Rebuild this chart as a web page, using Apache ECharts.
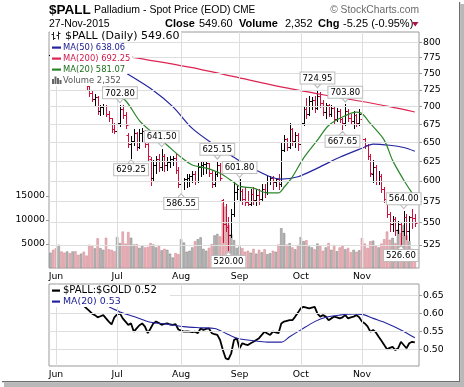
<!DOCTYPE html>
<html><head><meta charset="utf-8">
<script src="https://cdn.jsdelivr.net/npm/echarts@6/dist/echarts.min.js"></script>
<style>html,body{margin:0;padding:0;background:#fff}#c{width:464px;height:387px}</style>
</head><body><div id="c"></div>
<script>
// ---------- categories (trading days) ----------
const dates = [];
(function () {
  let t = Date.UTC(2015, 4, 28); const end = Date.UTC(2015, 10, 27);
  while (t <= end) { const d = new Date(t); const w = d.getUTCDay();
    if (w !== 0 && w !== 6) dates.push(d.toISOString().slice(0, 10)); t += 86400000; }
})();
dates.push(''); // empty slot at right edge
const monthNames = ['Jan','Feb','Mar','Apr','May','Jun','Jul','Aug','Sep','Oct','Nov','Dec'];

// ---------- tick labels ----------
const priceTicks = [525,550,575,600,625,650,675,700,725,750,775,800];
const volumeTicks = [5000,10000,15000];
const ratioTicks = [0.50,0.55,0.60,0.65];

// ---------- OHLC ----------
const opens = [779,778,772,766,778,774,762,766,760,764,
 758,748,752,742,730,720,711,714,694,699,
 701,690,684,668,665,676,697,688,660,648,
 652,662,644,662,666,648,628,604,620,628,
 618,632,620,624,628,629,614,596,600,602,
 604,606,608,600,618,620,621,622,610,596,
 608,620,576,548,545,536,560,586,590,588,
 578,574,572,584,576,582,578,590,586,600,
 604,598,602,596,640,654,644,668,652,660,
 648,676,696,690,708,710,698,716,706,692,
 702,690,698,682,694,682,676,694,684,680,
 688,676,682,654,646,632,608,618,600,606,
 590,578,560,548,554,542,548,540,556,540,
 556,554.85];
const highs = [786,782,780,782,786,778,770,772,768,770,
 762,756,755,744,733,724,718,716,702,704,
 703,693,684,676,680,702.8,702,692,662,658,
 668,664,668,670,667,652,630,626,632,634,
 641.5,634,630,632,632,634,618,606,604,608,
 608,612,612,622,624,624,624,623,614,612,
 625.15,622,578,572,556,566,598,594,601.8,590,
 592,588,590,592,590,590,596,596,606,606,
 606,604,608,650,660,656,676,670,664,662,
 682,700,712,716,714,716,724.95,722,710,706,
 704,702,700,698,696,684,703.8,696,690,694,
 690,696,684,656,648,634,626,620,612,608,
 592,580,562,558,556,552,550,564,560,558,
 566,560];
const lows = [772,768,762,764,770,758,752,756,750,754,
 744,740,738,726,716,708,702,690,688,690,
 687,680,664,662,663,672,684,670,644,629.25,
 646,640,642,652,644,626,595,600,610,612,
 614,612,614,618,620,610,592,586.55,590,592,
 594,598,596,598,606,608,610,606,592,594,
 606,600,528,540,520,534,558,578,576,572,
 570,570,570,572,570,572,576,580,584,596,
 590,594,590,594,638,640,642,646,644,640,
 646,674,684,688,696,692,696,700,688,684,
 686,686,676,680,678,667.65,674,680,676,670,
 672,674,650,642,628,606,598,596,596,586,
 574,556,540,540,536,538,526.6,536,532,530,
 544,546];
const closes = [778,772,766,778,774,762,766,760,764,758,
 748,752,742,730,720,711,714,694,699,701,
 690,684,668,665,676,697,688,674,648,652,
 662,644,662,666,648,632,604,620,628,618,
 632,620,624,628,629,614,596,600,602,604,
 606,608,600,618,620,621,622,610,596,608,
 620,604,548,545,536,560,586,590,594,578,
 574,572,584,576,582,578,590,586,600,604,
 598,602,596,640,654,644,668,652,660,648,
 676,696,690,708,710,698,716,706,692,702,
 690,698,682,694,682,676,694,684,680,688,
 676,690,654,646,632,610,618,600,606,590,
 578,560,548,554,542,548,540,556,540,556,
 554.85,549.6];
const volumes = [3200,3800,4150,4850,3450,3200,3450,3100,3450,3500,2750,3000,
 3400,2600,4850,4600,4100,6200,4150,3800,6300,3900,3800,3500,
 6450,5200,7600,5100,7500,6300,4900,5000,4200,4700,4300,4400,
 5200,4900,4300,4600,3700,4000,3800,3000,2200,3100,2900,
 6000,5300,3400,3600,4300,5600,6000,6400,4000,3600,4200,5000,6800,7100,6600,
 13500,12800,9000,7000,5800,4200,
 4500,4150,3400,3600,3200,4000,3000,3800,3300,3900,2900,3100,3600,3400,4900,
 8300,7300,4900,5200,4300,3900,4800,
 6450,5600,5800,4500,4300,3900,5100,4700,3600,4300,5200,3800,4800,3500,4300,4600,3900,4200,3300,3800,3400,3700,
 6250,5100,4200,5600,5700,4700,4300,5100,6000,7600,5900,6300,5200,8000,7300,9000,6800,5600,4000,2352];

// ---------- moving averages [dayIndex, value] ----------
const ma200 = [[29,776],[50,760],[66,745],[82,730],[100,716],[110,709],[122,700],[131,692.25]];
const ma50 = [[27,751],[37,724],[44,700],[51,669],[58,649],[66,630],[72,617],[79,605],[83,602],[89,605],[96,616],[104,630],[112,642],[116,647.6],[122,646],[127,643],[131,638.06]];
const ma20 = [[20,732],[27,709],[32,680],[37,662],[42,646],[47,630],[51,620],[56,616],[61,609.5],[66,598],[68,593],[73,591],[78,585],[82,585],[84,592],[87,605],[91,629],[96,653],[100,673],[105,685],[110,692],[112,690],[115,676],[120,653],[123,626],[127,601],[130,585],[131,581.07]];

// ---------- $PALL:$GOLD ratio ----------
const ratio = [0.640,0.638,0.636,0.640,0.637,0.632,0.635,0.630,0.633,0.628,0.624,0.627,
 0.622,0.615,0.608,0.600,0.596,0.590,0.593,0.596,0.587,0.578,0.570,0.590,
 0.598,0.601,0.587,0.578,0.569,0.573,0.550,0.559,0.568,0.573,0.564,0.546,
 0.559,0.573,0.578,0.574,0.569,0.572,0.573,0.570,0.569,0.571,0.556,0.553,
 0.550,0.551,0.550,0.549,0.550,0.546,0.559,0.555,0.558,0.559,0.546,0.543,
 0.541,0.527,0.499,0.476,0.473,0.490,0.527,0.532,0.504,0.518,0.515,0.513,
 0.518,0.522,0.527,0.532,0.541,0.550,0.545,0.541,0.550,0.548,0.546,0.573,
 0.578,0.580,0.582,0.582,0.592,0.603,0.615,0.619,0.617,0.615,0.617,0.619,
 0.600,0.592,0.596,0.592,0.582,0.587,0.592,0.590,0.587,0.590,0.596,0.587,
 0.590,0.592,0.596,0.590,0.578,0.573,0.565,0.550,0.555,0.548,0.536,0.525,
 0.513,0.501,0.505,0.508,0.499,0.504,0.522,0.513,0.504,0.518,0.522,0.520];
const ratioMa20 = [[21,0.619],[25,0.605],[30,0.592],[36,0.576],[42,0.571],[48,0.564],[54,0.561],[59,0.559],[63,0.546],[67,0.532],[73,0.525],[78,0.521],[83,0.521],[86,0.536],[90,0.555],[95,0.578],[99,0.590],[104,0.596],[109,0.599],[112,0.598],[116,0.587],[121,0.573],[126,0.555],[131,0.533]];

// ---------- annotations (highs / lows) ----------
const noteIdx  = [25, 29, 40, 47, 60, 68, 64, 96, 106, 105, 127, 126];
const noteVal  = [702.80, 629.25, 641.50, 586.55, 625.15, 601.80, 520.00, 724.95, 703.80, 667.65, 564.00, 526.60];
const noteSide = ['up','down','up','down','up','up','down','up','up','down','up','down'];

// ---------- styling ----------
const AX = 'DejaVu Sans';
const HF = 'Liberation Sans, Arial, sans-serif';
const RED = '#cf0f3b', BLK = '#000';
const C50 = '#2424a0', C200 = '#dd2452', C20 = '#2a862a';
const GRIDC = '#dedede';

const monthStarts = [];
for (let i = 1; i < dates.length - 1; i++) if (dates[i].slice(5,7) !== dates[i-1].slice(5,7)) monthStarts.push(i);
const isDown = i => i > 0 && closes[i] < closes[i-1];

function renderOHLC(params, api) {
  const i = api.value(0);
  const o = api.coord([i, api.value(1)]), h = api.coord([i, api.value(2)]);
  const l = api.coord([i, api.value(3)]), c = api.coord([i, api.value(4)]);
  const x = Math.round(h[0]) + 0.5;
  const st = { stroke: isDown(i) ? RED : BLK, lineWidth: 1 };
  const yo = Math.round(o[1]) + 0.5, yc = Math.round(c[1]) + 0.5;
  return { type: 'group', children: [
    { type: 'line', shape: { x1: x, y1: Math.round(h[1]), x2: x, y2: Math.round(l[1]) + 1 }, style: st },
    { type: 'line', shape: { x1: x - 2, y1: yo, x2: x, y2: yo }, style: st },
    { type: 'line', shape: { x1: x, y1: yc, x2: x + 2, y2: yc }, style: st }
  ]};
}

const axLabel = { fontSize: 9.3, fontFamily: AX, color: '#000' };
function xAx(g) {
  return { type: 'category', gridIndex: g, data: dates, boundaryGap: true,
    axisLine: { show: false }, axisTick: { show: false }, splitLine: { show: false },
    axisLabel: Object.assign({ margin: 4,
      interval: (idx) => monthStarts.indexOf(idx) >= 0,
      formatter: (v) => v ? monthNames[+v.slice(5,7) - 1] : '' }, axLabel) };
}
const gridLineStyle = { color: GRIDC, type: 'solid', width: 1 };

const option = {
  animation: false,
  grid: [
    { left: 49, top: 32, width: 370, height: 236, show: true, backgroundColor: '#fff', borderColor: '#9a9a9a', borderWidth: 1 },
    { left: 49, top: 284, width: 370, height: 82, show: true, backgroundColor: '#fff', borderColor: '#9a9a9a', borderWidth: 1 }
  ],
  xAxis: [xAx(0), xAx(1)],
  yAxis: [
    { type: 'log', gridIndex: 0, min: 500.5, max: 817.5, position: 'right',
      axisLine: { show: false }, axisLabel: { show: false }, splitLine: { show: false },
      axisTick: { show: true, customValues: priceTicks, length: 3, lineStyle: { color: '#9a9a9a' } } },
    { type: 'value', gridIndex: 0, min: 0, max: 49167, interval: 5000, position: 'left',
      axisLine: { show: false }, splitLine: { show: false },
      axisTick: { show: true, customValues: volumeTicks, length: 3, lineStyle: { color: '#9a9a9a' } },
      axisLabel: Object.assign({ margin: 4, customValues: volumeTicks,
        formatter: v => volumeTicks.indexOf(v) >= 0 ? String(v) : '' }, axLabel) },
    { type: 'value', gridIndex: 1, min: 0.4547, max: 0.6825, position: 'right',
      axisLine: { show: false }, axisLabel: { show: false }, splitLine: { show: false },
      axisTick: { show: true, customValues: ratioTicks, length: 3, lineStyle: { color: '#9a9a9a' } } }
  ],
  series: [
    { type: 'line', xAxisIndex: 0, yAxisIndex: 0, data: [], silent: true, z: 1,
      markLine: { silent: true, symbol: 'none', animation: false, lineStyle: gridLineStyle,
        label: Object.assign({ show: true, position: 'end', distance: 4, formatter: p => String(p.value) }, axLabel),
        data: priceTicks.map(v => ({ yAxis: v })).concat(monthStarts.map(i => ({ xAxis: dates[i], label: { show: false } }))) } },
    { type: 'bar', xAxisIndex: 0, yAxisIndex: 1, barCategoryGap: '12%', z: 2, silent: true,
      data: volumes.map((v, i) => ({ value: v, itemStyle: isDown(i)
        ? { color: '#e9b3b8', borderColor: '#d58a93', borderWidth: 0.6 }
        : { color: '#b9b9b9', borderColor: '#8a8a8a', borderWidth: 0.6 } })) },
    { type: 'custom', xAxisIndex: 0, yAxisIndex: 0, z: 3, silent: true, clip: true,
      data: closes.map((c, i) => [i, opens[i], highs[i], lows[i], c]),
      encode: { x: 0, y: [1, 2, 3, 4] }, renderItem: renderOHLC },
    { type: 'line', xAxisIndex: 0, yAxisIndex: 0, data: ma200, smooth: 0.3, showSymbol: false, z: 4, silent: true,
      lineStyle: { color: C200, width: 1.2 } },
    { type: 'line', xAxisIndex: 0, yAxisIndex: 0, data: ma50, smooth: 0.3, showSymbol: false, z: 4, silent: true,
      lineStyle: { color: C50, width: 1.2 } },
    { type: 'line', xAxisIndex: 0, yAxisIndex: 0, data: ma20, smooth: 0.3, showSymbol: false, z: 4, silent: true,
      lineStyle: { color: C20, width: 1.2 } },
    { type: 'scatter', xAxisIndex: 0, yAxisIndex: 0, z: 6, silent: true, symbol: 'triangle', symbolSize: [7, 4],
      itemStyle: { color: '#fff', borderColor: '#bdbdbd', borderWidth: 1, opacity: 1 },
      label: { show: true, formatter: p => noteVal[p.dataIndex].toFixed(2), fontSize: 8.5, fontFamily: AX, color: '#000',
        backgroundColor: '#fff', borderColor: '#bdbdbd', borderWidth: 1, padding: [1, 2, 0, 2], lineHeight: 10, distance: 0 },
      data: noteIdx.map((i, k) => noteSide[k] === 'up'
        ? { value: [i, noteVal[k]], symbolRotate: 180, symbolOffset: [0, -4], label: { position: 'top' } }
        : { value: [i, noteVal[k]], symbolRotate: 0, symbolOffset: [0, 4], label: { position: 'bottom' } }) },
    { type: 'line', xAxisIndex: 1, yAxisIndex: 2, data: [], silent: true, z: 1,
      markLine: { silent: true, symbol: 'none', animation: false, lineStyle: gridLineStyle,
        label: Object.assign({ show: true, position: 'end', distance: 4, formatter: p => Number(p.value).toFixed(2) }, axLabel),
        data: ratioTicks.map(v => ({ yAxis: v })).concat(monthStarts.map(i => ({ xAxis: dates[i], label: { show: false } }))) } },
    { type: 'line', xAxisIndex: 1, yAxisIndex: 2, data: ratio, showSymbol: false, z: 3, silent: true,
      lineStyle: { color: '#000', width: 1.8 } },
    { type: 'line', xAxisIndex: 1, yAxisIndex: 2, data: ratioMa20, smooth: 0.3, showSymbol: false, z: 4, silent: true,
      lineStyle: { color: C50, width: 1.1 } }
  ],
  graphic: { elements: [] }
};

// ---------- header, legends, frame ----------
const G = option.graphic.elements;
function txt(x, y, text, font, fill, align) {
  G.push({ type: 'text', x: x, y: y, z: 101, silent: true,
    style: { text: text, font: font, fill: fill, align: align || 'left', verticalAlign: 'middle',
             textAlign: align || 'left', textVerticalAlign: 'middle' } });
}
function rect(x, y, w, h, fill, z) {
  G.push({ type: 'rect', z: z || 100, silent: true, shape: { x: x, y: y, width: w, height: h }, style: { fill: fill } });
}
function line(x1, y1, x2, y2, stroke, w) {
  G.push({ type: 'line', z: 101, silent: true, shape: { x1: x1, y1: y1, x2: x2, y2: y2 }, style: { stroke: stroke, lineWidth: w || 1 } });
}
// header
txt(49, 10, '$PALL', 'bold 13.5px ' + HF, '#000');
txt(94, 10.5, 'Palladium - Spot Price (EOD)', '10.5px ' + HF, '#000');
txt(233, 10.5, 'CME', '10px ' + HF, '#000');
txt(419, 10.5, '\u00A9 StockCharts.com', '10.3px ' + HF, '#6a6a6a', 'right');
txt(49, 24, '27-Nov-2015', '10.5px ' + HF, '#000');
txt(165, 24, 'Close', 'bold 11px ' + HF, '#000');
txt(199, 24, '549.60', '11px ' + HF, '#000');
txt(239, 24, 'Volume', 'bold 11px ' + HF, '#000');
txt(285, 24, '2,352', '11px ' + HF, '#000');
txt(318, 24, 'Chg', 'bold 11px ' + HF, '#000');
txt(343, 24, '-5.25 (-0.95%)', '11px ' + HF, '#000');
G.push({ type: 'polygon', z: 101, silent: true, shape: { points: [[412, 22], [418.5, 22], [415.25, 26.5]] }, style: { fill: '#b01040' } });

// main legend (white boxes over the plot)
rect(50, 31, 131, 11, '#fff');
rect(50, 42, 69, 11, '#fff');
rect(50, 53, 82, 11, '#fff');
rect(50, 64, 77, 11, '#fff');
rect(50, 75, 72, 11, '#fff');
// ohlc icon
line(53.5, 32, 53.5, 40, '#222'); line(51.5, 34.5, 53.5, 34.5, '#222'); line(53.5, 38.5, 55.5, 38.5, '#222');
line(58.5, 31.5, 58.5, 39.5, '#222'); line(56.5, 35.5, 58.5, 35.5, '#222'); line(58.5, 33.5, 60.5, 33.5, '#222');
txt(65, 36.5, '$PALL (Daily) 549.60', '11px ' + AX, '#000');
rect(52, 46.5, 9, 2.2, C50, 101); txt(63, 47.5, 'MA(50) 638.06', '8.4px ' + AX, '#1a1a90');
rect(52, 57.5, 9, 2.2, C200, 101); txt(63, 58.5, 'MA(200) 692.25', '8.4px ' + AX, '#d01a48');
rect(52, 68.5, 9, 2.2, C20, 101); txt(63, 69.5, 'MA(20) 581.07', '8.4px ' + AX, '#1d6e1d');
rect(52, 79, 2, 5, '#666', 101); rect(54.5, 76.5, 2, 7.5, '#666', 101); rect(57, 78, 2, 6, '#666', 101); rect(59.5, 80, 2, 4, '#666', 101);
txt(63, 80.5, 'Volume 2,352', '8.4px ' + AX, '#555');

// lower legend
rect(50, 285, 120, 11, '#fff');
rect(50, 296, 72, 11, '#fff');
rect(52, 289.5, 8, 2.2, '#000', 101); txt(63, 290.5, '$PALL:$GOLD 0.52', '10px ' + AX, '#000');
rect(52, 300.5, 8, 2.2, C50, 101); txt(63, 301.5, 'MA(20) 0.53', '9.4px ' + AX, '#1a1a90');

// picture frame with shadow (right and bottom)
rect(459, 2, 1.2, 380.2, '#6d6d6d', 102);
rect(2, 381, 458.2, 1.2, '#6d6d6d', 102);
rect(460.2, 4, 3.8, 383, '#b8b8b8', 102);
rect(4, 382.2, 460, 4.8, '#b8b8b8', 102);

const chart = echarts.init(document.getElementById('c'), null, { renderer: 'canvas', width: 464, height: 387 });
chart.setOption(option);
</script></body></html>
